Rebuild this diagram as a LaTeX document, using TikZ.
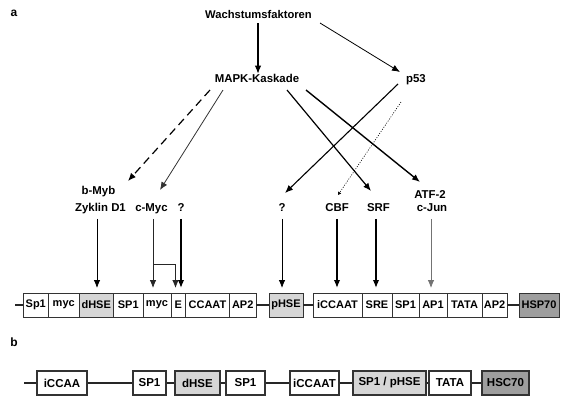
\documentclass[tikz,border=0pt]{standalone}
\usepackage{fontspec}
\setmainfont{Liberation Sans}
\usetikzlibrary{arrows.meta}
\newcommand\gbx[6]{\node[#1, minimum width={#4pt-#3pt}] (#2) at ({(#3+#4)/2},#5) {#6};}
\begin{document}
\begin{tikzpicture}[x=1pt,y=-1pt,
  lab/.style={font=\fontsize{11.4}{13}\selectfont\bfseries, inner sep=1pt, text height=8pt, text depth=2.3pt},
  boxa/.style={draw=black!80, line width=0.8pt, minimum height=24pt, inner sep=0pt, font=\fontsize{11}{12}\selectfont\bfseries, fill=white},
  boxb/.style={boxa, line width=1.2pt, font=\fontsize{11.5}{13}\selectfont\bfseries},
  lg/.style={fill=black!16},
  dg/.style={fill=black!38},
  arr/.style={-{Latex[length=8pt,width=6.5pt]}},
  bb/.style={line width=1.3pt, draw=black!85},
  thinln/.style={line width=0.8pt},
  medln/.style={line width=1.1pt},
  thickln/.style={line width=1.5pt}]
\useasboundingbox (0,0) rectangle (575,416);

% panel letters
\node[font=\fontsize{12}{14}\selectfont\bfseries, inner sep=0pt] (la) at (14,13) {a};
\node[font=\fontsize{12}{14}\selectfont\bfseries, inner sep=0pt] (lb) at (14,342) {b};

% top labels
\node[lab, font=\fontsize{11.2}{13}\selectfont\bfseries] (wf) at (258.5,16) {Wachstumsfaktoren};
\node[lab] (mapk) at (257,80) {MAPK-Kaskade};
\node[lab] (p53) at (416,80) {p53};

\node[lab] (bmyb) at (98.5,192) {b-Myb};
\node[lab] (zyk) at (100.5,209) {Zyklin D1};
\node[lab] (cmyc) at (151.5,209) {c-Myc};
\node[lab] (q1) at (181,209) {?};
\node[lab] (q2) at (282,209) {?};
\node[lab] (cbf) at (337,209) {CBF};
\node[lab] (srf) at (378.5,209) {SRF};
\node[lab] (atf) at (430,196) {ATF-2};
\node[lab] (cjun) at (432,209) {c-Jun};

% connector end points
\coordinate (w1) at (258,23);
\coordinate (w2) at (320,23);
\coordinate (m1) at (210,90);
\coordinate (m2) at (223,90);
\coordinate (m3) at (287,90);
\coordinate (m4) at (306,90);
\coordinate (p1) at (398,84);
\coordinate (p2) at (401,102);
\coordinate (e1) at (128,181);
\coordinate (e2) at (160,190);
\coordinate (e3) at (371,191);
\coordinate (e4) at (420,182);
\coordinate (e5) at (285,193);
\coordinate (e6) at (338,195);

% top arrows
\draw[arr, medln] (w1) -- (w1 |- mapk.north);
\draw[arr, thinln] (w2) -- (400,72);
\draw[arr, line width=1.2pt, dash pattern=on 8pt off 5pt] (m1) -- (e1);
\draw[arr, thinln, draw=black!80] (m2) -- (e2);
\draw[arr, line width=1.2pt] (m3) -- (e3);
\draw[arr, line width=1.4pt] (m4) -- (e4);
\draw[arr, medln] (p1) -- (e5);
\draw[-{Latex[length=3pt,width=4pt]}, line width=0.6pt, dash pattern=on 1pt off 1.5pt] (p2) -- (e6);

% boxes row a
\gbx{boxa}{sp1a}{23}{48.5}{305}{Sp1}
\gbx{boxa}{myca}{48.5}{79}{305}{myc}
\gbx{boxa,lg}{dhse}{79}{113.5}{305}{dHSE}
\gbx{boxa}{sp1b}{113.5}{143}{305}{SP1}
\gbx{boxa}{mycb}{143}{171}{305}{myc}
\gbx{boxa}{ebox}{171}{185.5}{305}{E}
\gbx{boxa}{ccaat}{185.5}{229.5}{305}{CCAAT}
\gbx{boxa}{ap2a}{229.5}{256}{305}{AP2}
\gbx{boxa,lg}{phse}{269}{303}{305}{pHSE}
\gbx{boxa}{iccaat}{313}{362}{305}{iCCAAT}
\gbx{boxa}{sre}{362}{392}{305}{SRE}
\gbx{boxa}{sp1c}{392}{419}{305}{SP1}
\gbx{boxa}{ap1}{419}{447}{305}{AP1}
\gbx{boxa}{tata}{447}{482}{305}{TATA}
\gbx{boxa}{ap2b}{482}{507}{305}{AP2}
\gbx{boxa,dg}{hsp}{519}{559}{305}{HSP70}

\coordinate (a0) at (15,305);
\draw[bb] (a0) -- (sp1a.west) (ap2a.east) -- (phse.west) (phse.east) -- (iccaat.west) (ap2b.east) -- (hsp.west);

% vertical arrows
\coordinate (tZ) at (97,288);
\coordinate (tM) at (153,288);
\coordinate (tB) at (175.5,288);
\coordinate (tQ1) at (181,288);
\coordinate (tQ2) at (282,288);
\coordinate (tC) at (337,288);
\coordinate (tS) at (376,288);
\coordinate (tJ) at (431,288);
\coordinate (br1) at (153,264);
\coordinate (br2) at (175.5,264);

\draw[arr, thinln, shorten <=3.5pt] (zyk.south -| tZ) -- (tZ);
\draw[arr, thinln, shorten <=3.5pt, draw=black!85] (cmyc.south -| tM) -- (tM);
\draw[arr, thinln, draw=black!85] (br1) -- (br2) -- (tB);
\draw[arr, thickln, shorten <=3.5pt] (q1.south -| tQ1) -- (tQ1);
\draw[arr, thinln, shorten <=3.5pt] (q2.south -| tQ2) -- (tQ2);
\draw[arr, thickln, shorten <=3.5pt] (cbf.south -| tC) -- (tC);
\draw[arr, thickln, shorten <=3.5pt] (srf.south -| tS) -- (tS);
\draw[arr, thinln, shorten <=3.5pt, draw=black!55] (cjun.south -| tJ) -- (tJ);

% row b
\gbx{boxb}{iccaa}{37}{87}{383}{iCCAA}
\gbx{boxb}{sp1d}{133}{166}{383}{SP1}
\gbx{boxb,lg}{dhseb}{175}{220}{383}{dHSE}
\gbx{boxb}{sp1e}{226}{265}{383}{SP1}
\gbx{boxb}{iccaatb}{290}{339}{383}{iCCAAT}
\gbx{boxb,lg}{sp1phse}{353}{426}{383}{SP1 / pHSE}
\gbx{boxb}{tatab}{429}{471}{383}{TATA}
\gbx{boxb,dg}{hsc}{482}{529}{383}{HSC70}

\coordinate (b0) at (24,383);
\draw[bb] (b0) -- (iccaa.west) (iccaa.east) -- (sp1d.west) (sp1d.east) -- (dhseb.west) (dhseb.east) -- (sp1e.west) (sp1e.east) -- (iccaatb.west) (iccaatb.east) -- (sp1phse.west) (sp1phse.east) -- (tatab.west);
\draw[bb, line width=1.8pt] (tatab.east) -- (hsc.west);
\end{tikzpicture}
\end{document}
